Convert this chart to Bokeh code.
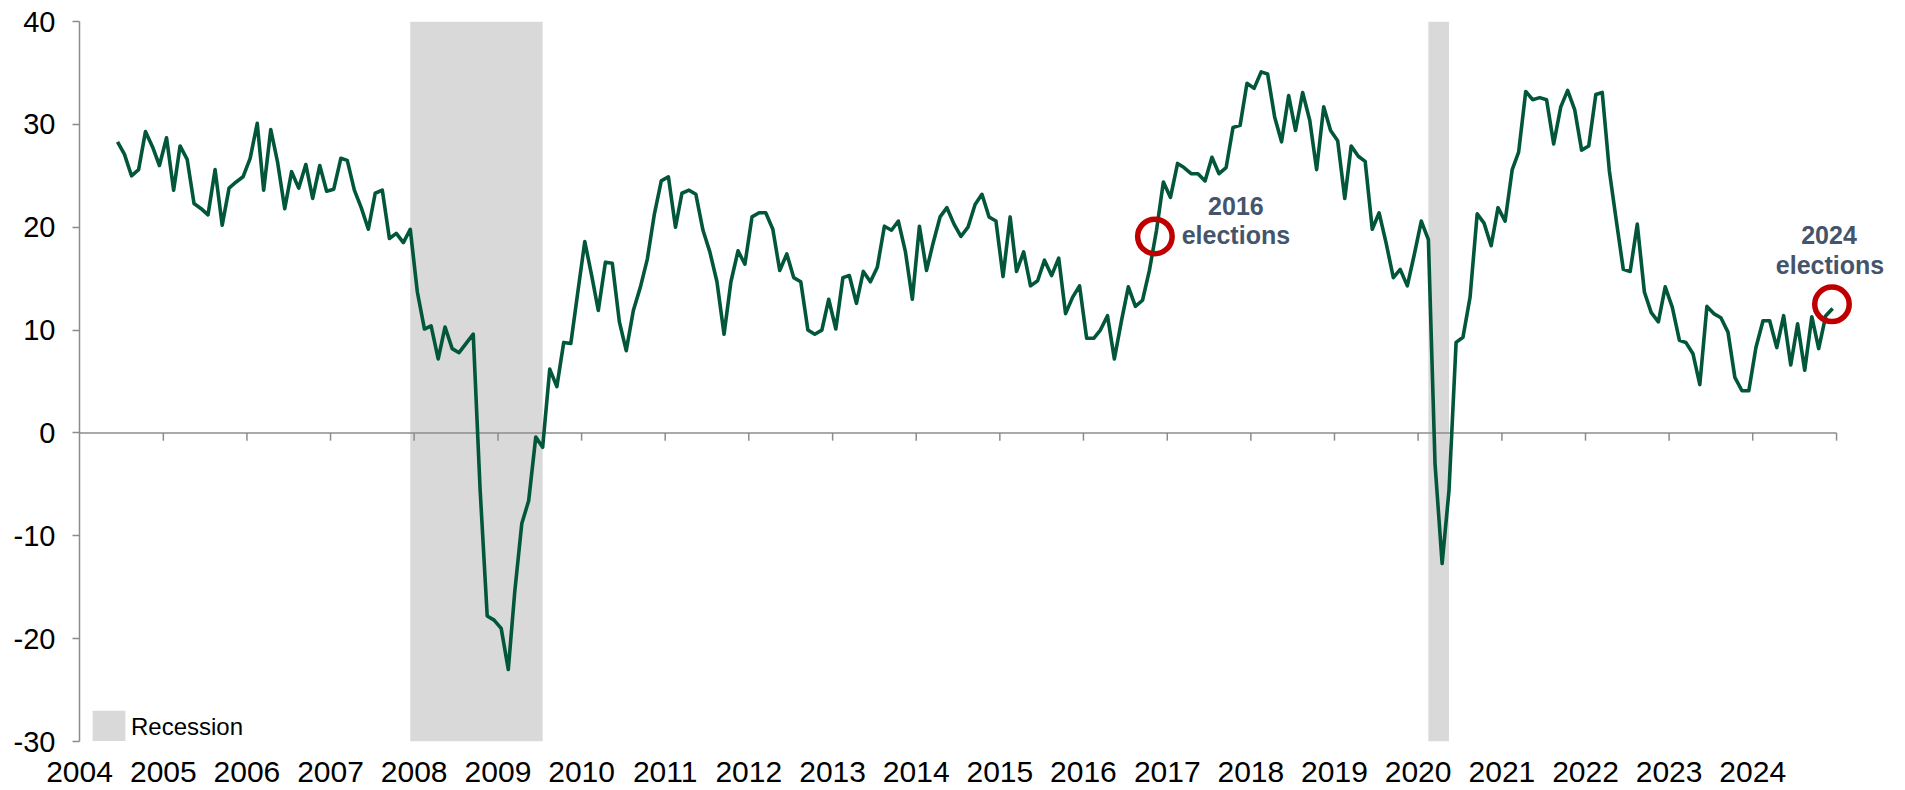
import pandas as pd
from bokeh.plotting import figure
from bokeh.models import (Range1d, FixedTicker, DatetimeTickFormatter, Legend,
                          LegendItem, ColumnDataSource)
from bokeh.core.properties import value
from bokeh.embed import file_html
from bokeh.resources import INLINE

# ---------------- data (monthly, first month = June 2004) ----------------
first_month = "2004-06"
v2004 = [28.3, 27.1, 25.0, 25.6, 29.3, 27.8, 26.0]
v2005 = [28.7, 23.6, 27.9, 26.6, 22.3, 21.8, 21.2, 25.6, 20.2, 23.8, 24.4, 24.9]
v2006 = [26.7, 30.1, 23.6, 29.5, 26.3, 21.8, 25.4, 23.8, 26.1, 22.8, 26.0, 23.5]
v2007 = [23.7, 26.7, 26.5, 23.6, 21.9, 19.8, 23.3, 23.6, 18.9, 19.4, 18.5, 19.8]
v2008 = [13.7, 10.1, 10.4, 7.2, 10.3, 8.2, 7.8, 8.7, 9.6, -5.5, -17.8, -18.2]
v2009 = [-19.0, -23.0, -15.5, -8.8, -6.6, -0.4, -1.4, 6.2, 4.5, 8.8, 8.7, 13.6]
v2010 = [18.6, 15.2, 11.9, 16.6, 16.5, 10.8, 8.0, 11.9, 14.2, 16.9, 21.3, 24.5]
v2011 = [24.9, 20.0, 23.3, 23.6, 23.2, 19.7, 17.6, 14.7, 9.6, 14.7, 17.7, 16.4]
v2012 = [21.0, 21.4, 21.4, 19.8, 15.8, 17.4, 15.1, 14.7, 10.0, 9.6, 10.0, 13.0]
v2013 = [10.1, 15.1, 15.3, 12.6, 15.7, 14.7, 16.1, 20.1, 19.7, 20.6, 17.6, 13.0]
v2014 = [20.1, 15.8, 18.4, 21.0, 21.9, 20.3, 19.1, 20.0, 22.2, 23.2, 21.0, 20.6]
v2015 = [15.2, 21.0, 15.7, 17.6, 14.3, 14.8, 16.8, 15.3, 17.0, 11.6, 13.2, 14.3]
v2016 = [9.2, 9.2, 10.0, 11.4, 7.2, 10.9, 14.2, 12.3, 12.9, 15.8, 19.7, 24.4]
v2017 = [22.9, 26.2, 25.8, 25.2, 25.2, 24.5, 26.8, 25.2, 25.8, 29.7, 29.9, 34.0]
v2018 = [33.5, 35.1, 34.9, 30.7, 28.3, 32.8, 29.4, 33.1, 30.4, 25.6, 31.7, 29.4]
v2019 = [28.4, 22.8, 27.9, 26.9, 26.4, 19.8, 21.4, 18.4, 15.1, 15.9, 14.3, 17.3]
v2020 = [20.6, 18.8, -3.0, -12.7, -5.6, 8.8, 9.3, 13.2, 21.3, 20.4, 18.2, 21.9]
v2021 = [20.6, 25.6, 27.3, 33.2, 32.4, 32.6, 32.4, 28.1, 31.7, 33.3, 31.4, 27.5]
v2022 = [27.9, 32.9, 33.1, 25.5, 20.7, 15.9, 15.7, 20.3, 13.7, 11.7, 10.8, 14.2]
v2023 = [12.2, 9.0, 8.8, 7.7, 4.7, 12.3, 11.6, 11.2, 9.8, 5.4, 4.1, 4.1]
v2024 = [8.3, 10.9, 10.9, 8.3, 11.4, 6.6, 10.6, 6.1, 11.3, 8.2, 11.4, 12.1]

rec_start = ["2007-12", "2020-02"]
rec_end = ["2009-06", "2020-04"]
rec_label = "Recession"

elec_years = ["2016", "2024"]
elec_word = ["elections", "elections"]
elec_dates = ["2016-11-08", "2024-12-12"]
elec_values = [19.1, 12.5]

tick_years = list(range(2004, 2025))
y_ticks = [-30, -20, -10, 0, 10, 20, 30, 40]
y_labels = ["-30", "-20", "-10", "0", "10", "20", "30", "40"]

# ---------------- build ----------------
values = (v2004 + v2005 + v2006 + v2007 + v2008 + v2009 + v2010 + v2011 + v2012 +
          v2013 + v2014 + v2015 + v2016 + v2017 + v2018 + v2019 + v2020 + v2021 +
          v2022 + v2023 + v2024)
mid = pd.Timedelta(days=14)
dates = pd.period_range(first_month, periods=len(values), freq="M").to_timestamp() + mid

rec_left = [pd.Period(s, "M").to_timestamp() + mid for s in rec_start]
rec_right = [(pd.Period(e, "M") + 1).to_timestamp() + mid for e in rec_end]

year_ts = [pd.Timestamp(f"{y}-01-01") for y in tick_years]
year_ms = [t.value // 10**6 for t in year_ts]
axis_end = pd.Timestamp(f"{tick_years[-1] + 1}-01-01")

GREEN = "#02573A"
GRAY = "#8C8C8C"
FONT = "Liberation Sans"

p = figure(width=1905, height=790, output_backend="svg", toolbar_location=None,
           x_axis_type="datetime",
           x_range=Range1d(year_ts[0], pd.Timestamp("2025-10-29")),
           y_range=Range1d(y_ticks[0], y_ticks[-1]),
           min_border_left=79, min_border_right=0, min_border_top=21,
           min_border_bottom=49)
p.outline_line_color = None
p.xgrid.grid_line_color = None
p.ygrid.grid_line_color = None
p.background_fill_color = "white"
p.border_fill_color = "white"

# recession shading
rec_src = ColumnDataSource(dict(left=rec_left, right=rec_right,
                                bottom=[y_ticks[0]] * len(rec_left),
                                top=[y_ticks[-1]] * len(rec_left)))
rec_r = p.quad(left="left", right="right", bottom="bottom", top="top",
               source=rec_src, fill_color="#D9D9D9", line_color=None)

# zero axis line with downward ticks
p.segment(x0=[year_ts[0]], y0=[0], x1=[axis_end], y1=[0],
          line_color=GRAY, line_width=1.5)
tick_pos = year_ts[1:] + [axis_end]
p.segment(x0=tick_pos, y0=[0] * len(tick_pos), x1=tick_pos,
          y1=[-0.75] * len(tick_pos), line_color=GRAY, line_width=1.5)

# main series
p.line(dates, values, line_color=GREEN, line_width=3.6, line_join="round")

# election markers
p.scatter(x=pd.to_datetime(elec_dates), y=elec_values, marker="circle", size=34.5,
          fill_color=None, line_color="#C00000", line_width=5.5)

txt_src = ColumnDataSource(dict(
    x=list(pd.to_datetime(elec_dates)) * 2,
    y=elec_values * 2,
    t=elec_years + elec_word,
    dx=[81, -3, 81, -2],
    dy=[-30, -69, -1, -39],
))
p.text(x="x", y="y", text="t", x_offset="dx", y_offset="dy", source=txt_src,
       text_align="center", text_baseline="alphabetic",
       text_font=value(FONT), text_font_style="bold",
       text_font_size="25px", text_color="#44546A")

# axes
p.yaxis.ticker = FixedTicker(ticks=y_ticks)
p.yaxis.major_label_overrides = dict(zip(y_ticks, y_labels))
p.yaxis.axis_line_color = GRAY
p.yaxis.axis_line_width = 1.5
p.yaxis.major_tick_line_color = GRAY
p.yaxis.major_tick_line_width = 1.5
p.yaxis.major_tick_out = 7
p.yaxis.major_tick_in = 0
p.yaxis.minor_tick_line_color = None
p.yaxis.major_label_standoff = 17
p.yaxis.major_label_text_font = FONT
p.yaxis.major_label_text_font_size = "29px"
p.yaxis.major_label_text_color = "black"

p.xaxis.ticker = FixedTicker(ticks=year_ms)
p.xaxis.formatter = DatetimeTickFormatter(
    years="%Y", months="%Y", days="%Y", hours="%Y", minutes="%Y",
    seconds="%Y", milliseconds="%Y", microseconds="%Y", hourmin="%Y",
    minsec="%Y")
p.xaxis.axis_line_color = None
p.xaxis.major_tick_line_color = None
p.xaxis.minor_tick_line_color = None
p.xaxis.major_tick_out = 0
p.xaxis.major_tick_in = 0
p.xaxis.major_label_standoff = 20
p.xaxis.major_label_text_font = FONT
p.xaxis.major_label_text_font_size = "30px"
p.xaxis.major_label_text_color = "black"

legend = Legend(items=[LegendItem(label=rec_label, renderers=[rec_r])],
                location=(9, -7), padding=0, margin=0, spacing=0,
                glyph_width=41, glyph_height=42, label_standoff=2,
                label_text_font=FONT, label_text_font_size="24px",
                label_text_color="black",
                border_line_color=None, background_fill_alpha=0)
p.add_layout(legend)

open("out.html", "w").write(file_html(p, INLINE))
